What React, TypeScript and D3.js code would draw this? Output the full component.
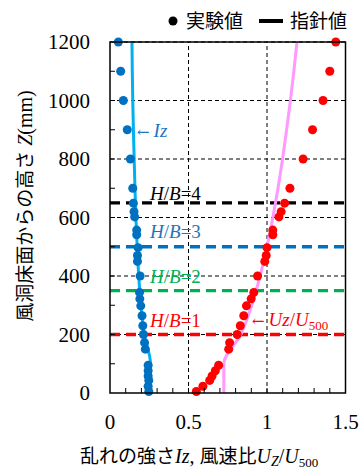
import React from 'react';
import * as d3 from 'd3';

// measurement heights Z (mm), shared by both measured series
const heights = [5, 23, 43, 58, 76, 95, 150, 172, 200, 230, 264, 298, 322, 344, 400, 450, 470, 497, 541, 557, 602, 620, 649, 700, 800, 900, 1000, 1100, 1200];
// turbulence intensity Iz (measured)
const izMeasured = [0.247, 0.243, 0.247, 0.243, 0.243, 0.243, 0.225, 0.22, 0.213, 0.209, 0.204, 0.196, 0.19, 0.188, 0.192, 0.175, 0.175, 0.179, 0.17, 0.17, 0.157, 0.153, 0.149, 0.145, 0.13, 0.11, 0.085, 0.068, 0.053];
// wind speed ratio Uz/U500 (measured)
const uzMeasured = [0.55, 0.592, 0.635, 0.65, 0.671, 0.692, 0.756, 0.762, 0.81, 0.83, 0.852, 0.869, 0.899, 0.916, 0.94, 0.986, 0.995, 1.0, 1.037, 1.037, 1.076, 1.09, 1.112, 1.146, 1.23, 1.29, 1.357, 1.4, 1.438];

// guideline curves (指針値)
const guideZ = [0, 100, 200, 300, 400, 500, 600, 700, 800, 900, 1000, 1100, 1200];
const izGuide = [0.258, 0.258, 0.218, 0.197, 0.183, 0.173, 0.165, 0.159, 0.154, 0.149, 0.145, 0.142, 0.14];
const uzGuide = [0.725, 0.725, 0.833, 0.903, 0.956, 1.0, 1.037, 1.07, 1.099, 1.125, 1.149, 1.171, 1.191];

// building heights H/B
const hbLevels = [
  { label: '4', z: 650, color: '#000000' },
  { label: '3', z: 500, color: '#0070C0' },
  { label: '2', z: 350, color: '#00B050' },
  { label: '1', z: 200, color: '#FF0000' },
];

const xTickLabels = [0, 0.5, 1, 1.5];
const yTickLabels = [0, 200, 400, 600, 800, 1000, 1200];

const W = 363;
const H = 471;
const serif = '"Liberation Serif", "Times New Roman", "Noto Sans CJK JP", serif';
const jp = '"Noto Sans CJK JP", sans-serif';
const arrowFont = '"DejaVu Serif", serif';

export default function App() {
  const x = d3.scaleLinear().domain([0, 1.5]).range([110, 345.5]);
  const y = d3.scaleLinear().domain([0, 1200]).range([393, 42]);

  const guideLine = (vals: number[]) =>
    d3.line<number>()
      .x((d) => x(d))
      .y((_, i) => y(guideZ[i]))
      .curve(d3.curveMonotoneY)(vals) || '';

  const xMinor = d3.range(1, 15).map((i) => i / 10);
  const yMinor = d3.range(100, 1200, 100);

  const hbTextY: Record<string, number> = { '4': 200, '3': 238, '2': 283, '1': 327 };
  const hbTextColor: Record<string, string> = { '4': '#000000', '3': '#1B75BC', '2': '#00B050', '1': '#FF0000' };

  return (
    <svg width={W} height={H} style={{ position: 'absolute', left: 0, top: 0, background: '#fff' }}>
      <rect width={W} height={H} fill="#fff" />

      {/* grid */}
      {yTickLabels.filter((v) => v > 0).map((v) => (
        <line key={'gy' + v} x1={x(0)} x2={x(1.5)} y1={y(v)} y2={y(v)} stroke="#000" strokeWidth={1} strokeDasharray="4,3" />
      ))}
      {[0.5, 1].map((v) => (
        <line key={'gx' + v} x1={x(v)} x2={x(v)} y1={y(0)} y2={y(1200)} stroke="#000" strokeWidth={1} strokeDasharray="4,3" />
      ))}

      {/* H/B reference lines */}
      {hbLevels.map((h) => (
        <line key={'hb' + h.label} x1={x(0)} x2={x(1.5)} y1={y(h.z)} y2={y(h.z)} stroke={h.color} strokeWidth={3.3} strokeDasharray="10,6" />
      ))}

      {/* guideline curves */}
      <path d={guideLine(izGuide)} fill="none" stroke="#00B0F0" strokeWidth={3} />
      <path d={guideLine(uzGuide)} fill="none" stroke="#FF99FF" strokeWidth={3} />

      {/* measured points */}
      {heights.map((z, i) => (
        <circle key={'iz' + i} cx={x(izMeasured[i])} cy={y(z)} r={4.5} fill="#0070C0" />
      ))}
      {heights.map((z, i) => (
        <circle key={'uz' + i} cx={x(uzMeasured[i])} cy={y(z)} r={4.5} fill="#FF0000" />
      ))}

      {/* frame */}
      <rect x={x(0)} y={y(1200)} width={x(1.5) - x(0)} height={y(0) - y(1200)} fill="none" stroke="#000" strokeWidth={1.5} />

      {/* ticks */}
      {xMinor.map((v) => (
        <line key={'tx' + v} x1={x(v)} x2={x(v)} y1={y(0)} y2={y(0) - 5} stroke="#000" strokeWidth={1} />
      ))}
      {yMinor.map((v) => (
        <line key={'ty' + v} x1={x(0)} x2={x(0) + 5} y1={y(v)} y2={y(v)} stroke="#000" strokeWidth={1} />
      ))}

      {/* tick labels */}
      {yTickLabels.map((v) => (
        <text key={'ly' + v} x={90} y={y(v) + 7} textAnchor="end" fontFamily={serif} fontSize={21} fill="#000">{v}</text>
      ))}
      {xTickLabels.map((v) => (
        <text key={'lx' + v} x={x(v)} y={429} textAnchor="middle" fontFamily={serif} fontSize={21} fill="#000">{v}</text>
      ))}

      {/* H/B labels */}
      {hbLevels.map((h) => (
        <text key={'hbt' + h.label} x={150} y={hbTextY[h.label]} fontFamily={serif} fontSize={19} fill={hbTextColor[h.label]}>
          <tspan fontStyle="italic">H</tspan>/<tspan fontStyle="italic">B</tspan>={h.label}
        </text>
      ))}

      {/* curve annotations */}
      <text x={137} y={137} fontFamily={serif} fontSize={19} fill="#1B75BC">
        <tspan fontFamily={arrowFont} fontSize={15}>←</tspan><tspan dx={4} fontStyle="italic">Iz</tspan>
      </text>
      <text x={252} y={326} fontFamily={serif} fontSize={19} fill="#FF0000">
        <tspan fontFamily={arrowFont} fontSize={15}>←</tspan><tspan dx={4} fontStyle="italic">Uz</tspan>/<tspan fontStyle="italic">U</tspan><tspan fontSize={13} dy={4}>500</tspan>
      </text>

      {/* axis titles */}
      <text x={80} y={463} fontFamily={jp} fontSize={19} fill="#000">
        乱れの強さ<tspan fontFamily={serif} fontStyle="italic" fontSize={20}>Iz</tspan><tspan fontFamily={serif} fontSize={20}>, </tspan>風速比<tspan fontFamily={serif} fontStyle="italic" fontSize={20}>U</tspan><tspan fontFamily={serif} fontStyle="italic" fontSize={14} dy={3}>Z</tspan><tspan fontFamily={serif} fontSize={20} dy={-3}>/</tspan><tspan fontFamily={serif} fontStyle="italic" fontSize={20}>U</tspan><tspan fontFamily={serif} fontSize={13} dy={4}>500</tspan>
      </text>
      <text transform="translate(32,206) rotate(-90)" textAnchor="middle" fontFamily={jp} fontSize={19} fill="#000">
        風洞床面からの高さ<tspan fontFamily={serif} fontStyle="italic" fontSize={20}> Z</tspan><tspan fontFamily={serif} fontSize={20}>(mm)</tspan>
      </text>

      {/* legend */}
      <circle cx={173} cy={21} r={4.5} fill="#000" />
      <text x={186} y={28} fontFamily={jp} fontSize={19} fill="#000">実験値</text>
      <line x1={259} x2={283} y1={21} y2={21} stroke="#000" strokeWidth={4} />
      <text x={290} y={28} fontFamily={jp} fontSize={19} fill="#000">指針値</text>
    </svg>
  );
}
